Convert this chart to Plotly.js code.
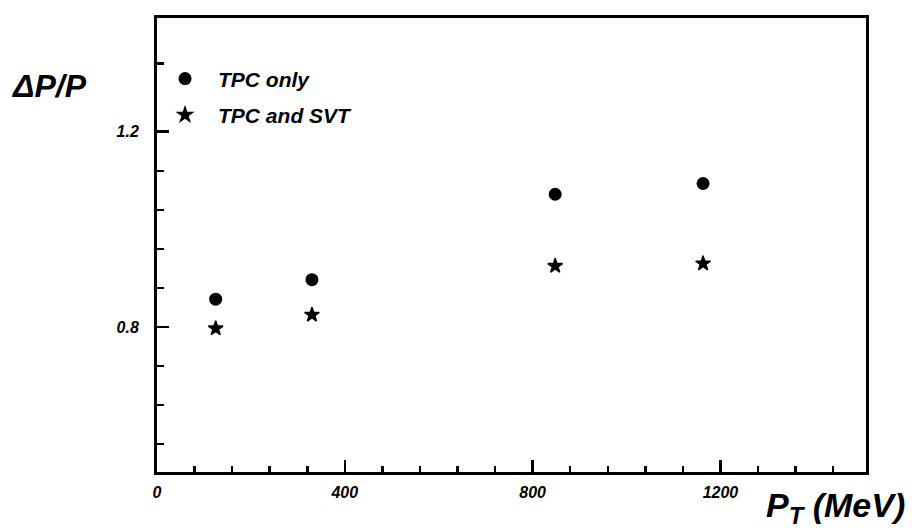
<!DOCTYPE html>
<html>
<head>
<meta charset="utf-8">
<script src="https://cdn.plot.ly/plotly-3.0.1.min.js"></script>
<style>
  html, body { margin: 0; padding: 0; background: #fff; }
  #chart { width: 912px; height: 532px; }
</style>
</head>
<body>
<div id="chart"></div>
<script>
// ---- data ----
const ptValues = [125, 330, 848, 1163];          // P_T (MeV)
const tpcOnly = [0.857, 0.897, 1.072, 1.094];     // ΔP/P, TPC only
const tpcSvt = [0.797, 0.825, 0.925, 0.930];      // ΔP/P, TPC and SVT
const seriesNames = ["TPC only", "TPC and SVT"];
const xTickVals = [0, 400, 800, 1200];
const yTickVals = [0.8, 1.2];
const yMinorTicks = [0.56, 0.64, 0.72, 0.88, 0.96, 1.04, 1.12, 1.34];

const FONT = "Liberation Sans, Arial, Helvetica, sans-serif";

const traces = [
  {
    x: ptValues, y: tpcOnly, name: seriesNames[0], type: "scatter", mode: "markers",
    legendgroup: "a",
    marker: { symbol: "circle", size: 13, color: "#000" }
  },
  {
    x: ptValues, y: tpcSvt, name: seriesNames[1], type: "scatter", mode: "markers",
    legendgroup: "b",
    marker: { symbol: "star", size: 11, color: "#000", line: { color: "#000", width: 1.5 } }
  }
];

const axisCommon = {
  showline: true, linecolor: "#000", linewidth: 3, mirror: true,
  showgrid: false, zeroline: false,
  ticks: "inside", ticklen: 12, tickwidth: 2.5, tickcolor: "#000",
  tickfont: { family: FONT, size: 16, color: "#000", weight: "bold", style: "italic" }
};

const layout = {
  width: 912, height: 532,
  margin: { l: 157, r: 46, t: 18, b: 60 },
  paper_bgcolor: "#fff", plot_bgcolor: "#fff",
  showlegend: true,
  legend: {
    x: -0.007, y: 0.911, xanchor: "left", yanchor: "top",
    bgcolor: "rgba(0,0,0,0)", borderwidth: 0,
    itemwidth: 56, tracegroupgap: 6,
    font: { family: FONT, size: 21, color: "#000", weight: "bold", style: "italic" }
  },
  xaxis: Object.assign({}, axisCommon, {
    range: [0, 1510],
    tickmode: "array", tickvals: xTickVals, ticktext: xTickVals.map(String),
    ticklabelstandoff: 4,
    minor: { dtick: 80, tick0: 0, ticks: "inside", ticklen: 6, tickwidth: 2.5, tickcolor: "#000", showgrid: false }
  }),
  yaxis: Object.assign({}, axisCommon, {
    range: [0.503, 1.433],
    tickmode: "array", tickvals: yTickVals, ticktext: yTickVals.map(v => v.toFixed(1)),
    ticklabelstandoff: 12,
    minor: { tickmode: "array", tickvals: yMinorTicks, ticks: "inside", ticklen: 7, tickwidth: 2.5, tickcolor: "#000", showgrid: false }
  }),
  annotations: [
    {
      xref: "paper", yref: "paper", x: -0.207, y: 0.85, xanchor: "left", yanchor: "middle",
      text: "ΔP/P", showarrow: false,
      font: { family: FONT, size: 32, color: "#000", weight: "bold", style: "italic" }
    },
    {
      xref: "paper", yref: "paper", x: 1.058, y: -0.078, xanchor: "right", yanchor: "middle",
      text: "P<sub>T</sub> (MeV)", showarrow: false,
      font: { family: FONT, size: 34, color: "#000", weight: "bold", style: "italic" }
    }
  ]
};

Plotly.newPlot("chart", traces, layout, { displayModeBar: false, staticPlot: true });
</script>
</body>
</html>
